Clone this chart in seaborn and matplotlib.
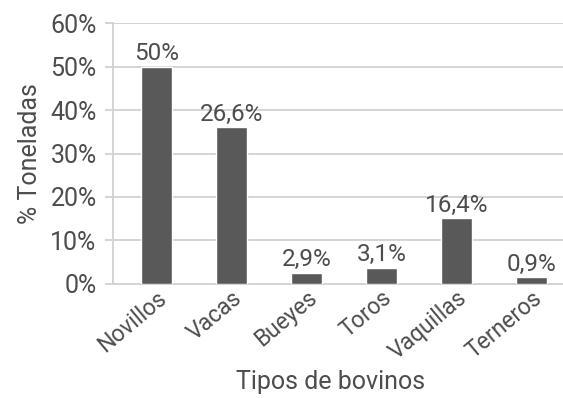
import matplotlib
matplotlib.use("Agg")
import matplotlib.pyplot as plt
import seaborn as sns
import pandas as pd

categories = ["Novillos", "Vacas", "Bueyes", "Toros", "Vaquillas", "Terneros"]
bar_values = [50.0, 36.1, 2.5, 3.7, 15.1, 1.5]
bar_labels = ["50%", "26,6%", "2,9%", "3,1%", "16,4%", "0,9%"]
y_ticks = [0, 10, 20, 30, 40, 50, 60]
y_ticklabels = ["0%", "10%", "20%", "30%", "40%", "50%", "60%"]

sns.set_style("white")
plt.rcParams["font.family"] = ["Roboto", "DejaVu Sans"]
text_color = "#4d4d4d"

df = pd.DataFrame({"cat": categories, "val": bar_values})

fig = plt.figure(figsize=(5.63, 3.98), dpi=100)
ax = fig.add_axes([113.3 / 563, 1 - 283.7 / 398, 1 - 113.3 / 563, (283.7 - 23.3) / 398])

sns.barplot(data=df, x="cat", y="val", color="#595959", width=0.41,
            saturation=1, ax=ax, zorder=3)

ax.set_ylim(0, 60)
ax.set_xlim(-0.573, 5.42)
ax.set_yticks(y_ticks)
ax.set_yticklabels(y_ticklabels, fontsize=18, color=text_color)
ax.yaxis.grid(True, color="#d4d4d4", linewidth=1.4, zorder=0)
ax.set_axisbelow(True)
ax.tick_params(axis="y", length=6, width=1.4, color="#d4d4d4", pad=6, left=True)
ax.tick_params(axis="x", length=0, pad=2)

for s in ["top", "right"]:
    ax.spines[s].set_visible(False)
ax.spines["left"].set_color("#d4d4d4")
ax.spines["left"].set_linewidth(1.4)
ax.spines["bottom"].set_color("#d4d4d4")
ax.spines["bottom"].set_linewidth(1.4)

ax.set_xticks(range(len(categories)))
ax.set_xticklabels(categories, rotation=40, ha="right", rotation_mode="anchor",
                   fontsize=16.5, color=text_color)

for i, (v, lab) in enumerate(zip(bar_values, bar_labels)):
    ax.annotate(lab, (i, v), xytext=(0, 1), textcoords="offset points",
                ha="center", va="bottom", fontsize=17.5, color=text_color)

ax.set_xlabel("Tipos de bovinos", fontsize=18, color=text_color, va="center")
ax.xaxis.set_label_coords((331 - 113.3) / 449.7, (283.7 - 382) / 260.4)
ax.set_ylabel("% Toneladas", fontsize=18, color=text_color, labelpad=6)

fig.savefig("out.png", dpi=100)
